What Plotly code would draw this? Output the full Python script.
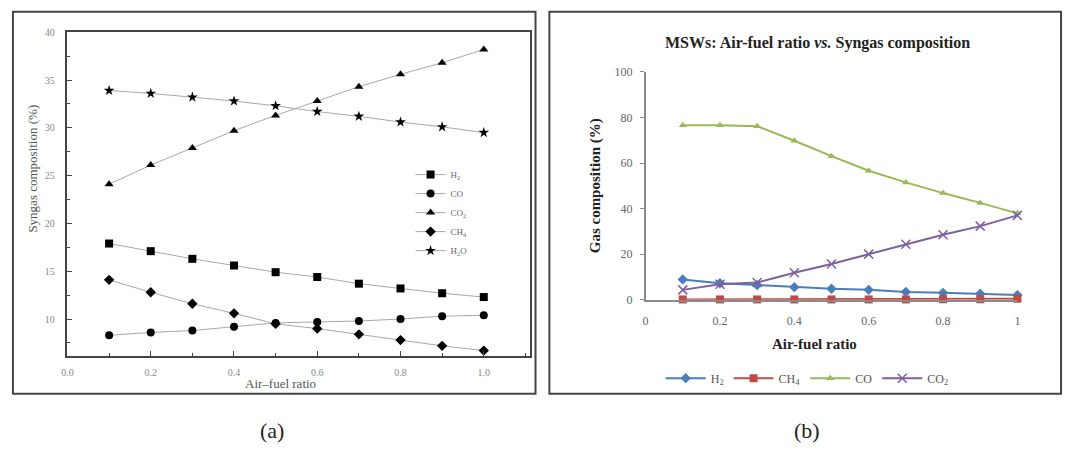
import plotly.graph_objects as go

W, H = 1070, 453

# ---------------- data ----------------
afr = [0.1, 0.2, 0.3, 0.4, 0.5, 0.6, 0.7, 0.8, 0.9, 1.0]

# panel (a)
a_H2 = [17.9, 17.1, 16.3, 15.6, 14.9, 14.4, 13.7, 13.2, 12.7, 12.3]
a_CO = [8.3, 8.6, 8.8, 9.2, 9.6, 9.7, 9.8, 10.0, 10.3, 10.4]
a_CO2 = [24.1, 26.1, 27.9, 29.7, 31.3, 32.8, 34.3, 35.6, 36.8, 38.2]
a_CH4 = [14.1, 12.8, 11.6, 10.6, 9.5, 9.0, 8.4, 7.8, 7.2, 6.7]
a_H2O = [33.9, 33.6, 33.2, 32.8, 32.3, 31.7, 31.2, 30.6, 30.1, 29.5]
a_names = ["H<sub>2</sub>", "CO", "CO<sub>2</sub>", "CH<sub>4</sub>", "H<sub>2</sub>O"]
a_symbols = ["square", "circle", "triangle-up", "diamond", "star"]

# panel (b)
b_H2 = [8.9, 7.2, 6.4, 5.5, 4.8, 4.3, 3.4, 3.0, 2.6, 2.0]
b_CH4 = [0.1, 0.1, 0.1, 0.1, 0.1, 0.1, 0.1, 0.2, 0.2, 0.4]
b_CO = [76.6, 76.6, 76.2, 69.8, 63.0, 56.6, 51.5, 46.8, 42.5, 37.9]
b_CO2 = [4.3, 6.8, 7.5, 11.8, 15.7, 20.0, 24.3, 28.5, 32.3, 37.0]
b_names = ["H<sub>2</sub>", "CH<sub>4</sub>", "CO", "CO<sub>2</sub>"]
b_colors = ["#4a7ebb", "#be4b48", "#98b954", "#7d60a0"]
b_symbols = ["diamond", "square", "triangle-up", "x-thin-open"]

a_xticks = [0.0, 0.2, 0.4, 0.6, 0.8, 1.0]
a_yticks = [10, 15, 20, 25, 30, 35, 40]
b_xticks = [0, 0.2, 0.4, 0.6, 0.8, 1]
b_yticks = [0, 20, 40, 60, 80, 100]

SERIF = "Liberation Serif"


def px(x):
    return x / W


def py(y):
    return 1 - y / H


fig = go.Figure()

for name, ys, sym in zip(a_names, [a_H2, a_CO, a_CO2, a_CH4, a_H2O], a_symbols):
    fig.add_trace(go.Scatter(
        x=afr, y=ys, name=name, mode="lines+markers",
        line=dict(color="#a8a8a8", width=1),
        marker=dict(symbol=sym, size=8, color="#000000"),
        xaxis="x", yaxis="y", legend="legend", cliponaxis=False,
    ))

b_sizes = [8, 8, 7, 9]
for name, ys, col, sym, sz in zip(b_names, [b_H2, b_CH4, b_CO, b_CO2], b_colors, b_symbols, b_sizes):
    mk = dict(symbol=sym, size=sz, color=col)
    if sym == "x-thin-open":
        mk = dict(symbol=sym, size=sz, color=col, line=dict(color=col, width=1.5))
    fig.add_trace(go.Scatter(
        x=afr, y=ys, name=name, mode="lines+markers",
        line=dict(color=col, width=2),
        marker=mk,
        xaxis="x2", yaxis="y2", legend="legend2", cliponaxis=False,
    ))

fig.update_layout(
    width=W, height=H,
    margin=dict(l=0, r=0, t=0, b=0),
    paper_bgcolor="white", plot_bgcolor="white",
    font=dict(family=SERIF, color="#333"),
    xaxis=dict(
        domain=[px(62), px(528)], range=[0, 1.11], anchor="y",
        tickvals=a_xticks, tickformat=".1f",
        ticks="inside", ticklen=5, tickcolor="#444",
        minor=dict(ticks="inside", dtick=0.1, tick0=0, ticklen=3, tickcolor="#444"),
        showline=True, linecolor="#444", linewidth=1.5, mirror=True,
        showgrid=False, zeroline=False, ticklabelstandoff=6,
        tickfont=dict(size=10, color="#888", family=SERIF),
    ),
    yaxis=dict(
        domain=[py(360), py(26)], range=[6.15, 40], anchor="x",
        tickvals=a_yticks,
        ticks="inside", ticklen=5, tickcolor="#444",
        minor=dict(ticks="inside", dtick=2.5, tick0=0, ticklen=3, tickcolor="#444"),
        showline=True, linecolor="#444", linewidth=1.5, mirror=True,
        showgrid=False, zeroline=False, ticklabelstandoff=9,
        tickfont=dict(size=10, color="#888", family=SERIF),
    ),
    xaxis2=dict(
        domain=[px(645), px(1020)], range=[0, 1], anchor="y2",
        tickvals=b_xticks,
        ticks="", showline=True, linecolor="#8a8a8a", linewidth=1.5,
        showgrid=False, zeroline=False, ticklabelstandoff=9,
        tickfont=dict(size=12, color="#666", family=SERIF),
    ),
    yaxis2=dict(
        domain=[py(302), py(67)], range=[0, 100], anchor="x2",
        tickvals=b_yticks,
        ticks="outside", ticklen=4, tickcolor="#8a8a8a",
        showline=True, linecolor="#8a8a8a", linewidth=1.5,
        showgrid=False, zeroline=False, ticklabelstandoff=5,
        tickfont=dict(size=12, color="#666", family=SERIF),
    ),
    legend=dict(
        x=px(408), y=py(158), xanchor="left", yanchor="top",
        font=dict(size=9, color="#666", family=SERIF),
        bgcolor="rgba(0,0,0,0)", itemwidth=30, tracegroupgap=0,
    ),
    legend2=dict(
        orientation="h", x=px(808), y=py(383), xanchor="center", yanchor="middle",
        font=dict(size=12, color="#555", family=SERIF),
        bgcolor="rgba(0,0,0,0)", itemwidth=40,
    ),
    showlegend=True,
)

# panel frames
fig.add_shape(type="rect", xref="paper", yref="paper",
              x0=px(7), x1=px(534), y0=py(399), y1=py(5),
              line=dict(color="#444", width=2))
fig.add_shape(type="rect", xref="paper", yref="paper",
              x0=px(548), x1=px(1064), y0=py(399), y1=py(5),
              line=dict(color="#444", width=2))

ann = [
    dict(text="Air–fuel ratio", x=px(277), y=py(389), font=dict(size=13, color="#555")),
    dict(text="Syngas composition (%)", x=px(27), y=py(167), textangle=-90,
         font=dict(size=13, color="#555")),
    dict(text="<b>MSWs: Air-fuel ratio <i>vs.</i> Syngas composition</b>", x=px(818), y=py(37),
         font=dict(size=16, color="#222")),
    dict(text="<b>Air-fuel ratio</b>", x=px(815), y=py(348), font=dict(size=15, color="#222")),
    dict(text="<b>Gas composition (%)</b>", x=px(594), y=py(185), textangle=-90,
         font=dict(size=15, color="#222")),
    dict(text="(a)", x=px(268), y=py(437), font=dict(size=22, color="#222")),
    dict(text="(b)", x=px(808), y=py(437), font=dict(size=22, color="#222")),
]
for a in ann:
    fig.add_annotation(xref="paper", yref="paper", showarrow=False,
                       xanchor="center", yanchor="middle", **a)

fig.write_html("out.html")
